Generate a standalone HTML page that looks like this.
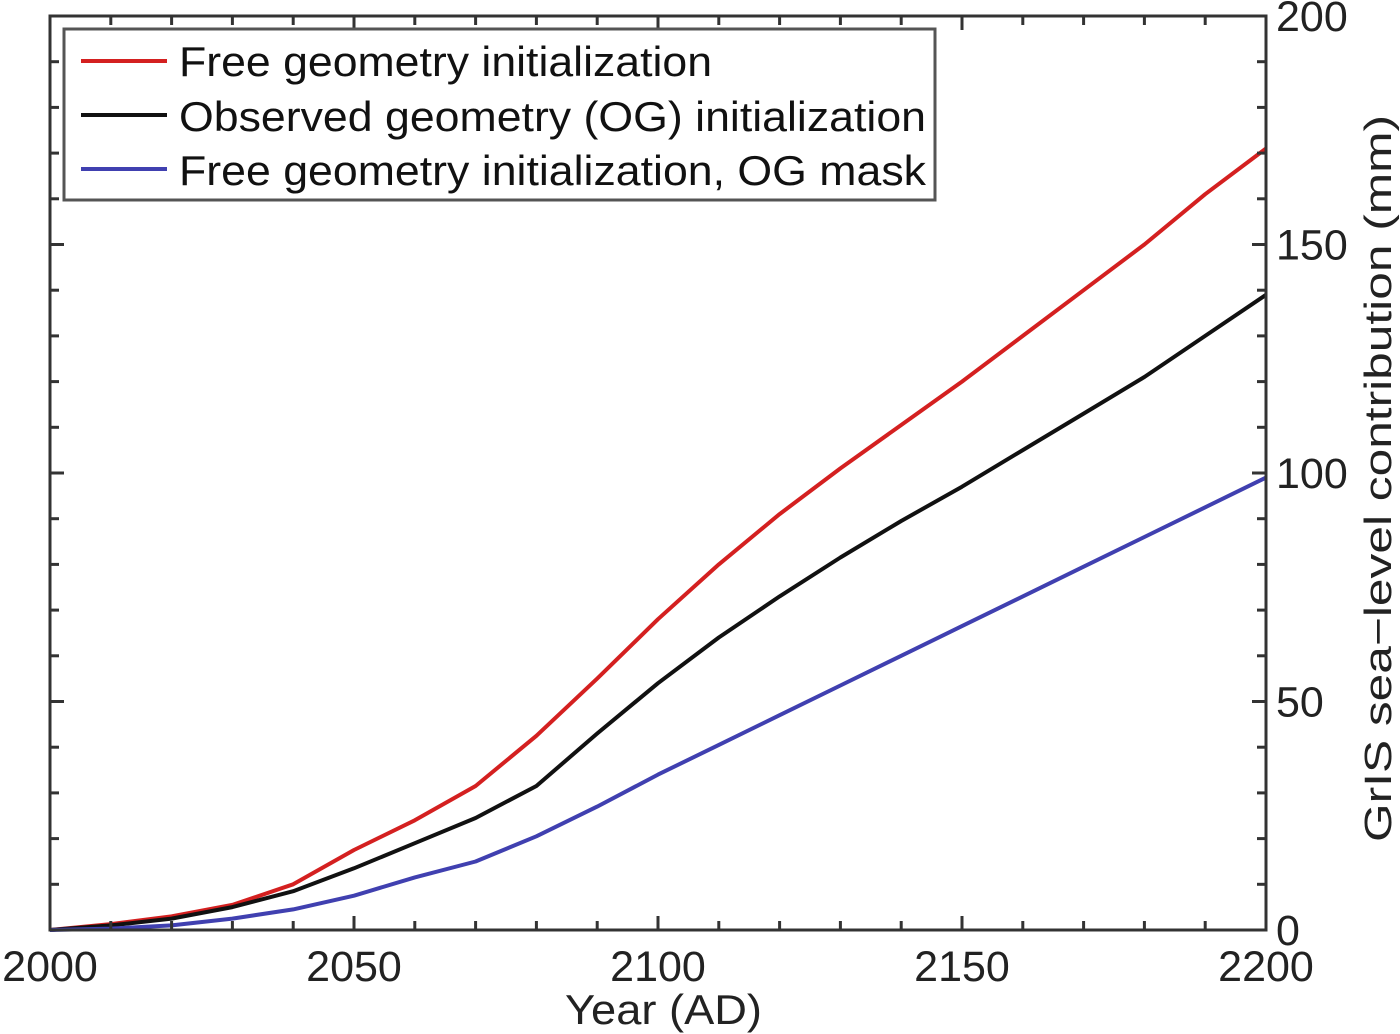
<!DOCTYPE html>
<html><head><meta charset="utf-8">
<style>
html,body{margin:0;padding:0;background:#fff;}
svg{display:block;font-family:"Liberation Sans",sans-serif;}
</style></head>
<body>
<svg id="chart" width="1400" height="1034" viewBox="0 0 1400 1034">
  <g id="series"></g>
  <g id="axes"></g>
  <text x="565" y="1024" font-size="42" textLength="197" lengthAdjust="spacingAndGlyphs" fill="#222">Year (AD)</text>
  <text transform="translate(1391,842) rotate(-90)" font-size="38" textLength="727" lengthAdjust="spacingAndGlyphs" fill="#222">GrIS sea−level contribution (mm)</text>
  <g>
    <rect x="64" y="29" width="871" height="171" fill="#fff" stroke="#555" stroke-width="3"/>
    <line x1="81" y1="61" x2="167" y2="61" stroke="#d42020" stroke-width="4"/>
    <text x="179" y="76" font-size="42" textLength="533" lengthAdjust="spacingAndGlyphs" fill="#111">Free geometry initialization</text>
    <line x1="81" y1="115" x2="167" y2="115" stroke="#111" stroke-width="4"/>
    <text x="179" y="131" font-size="42" textLength="747" lengthAdjust="spacingAndGlyphs" fill="#111">Observed geometry (OG) initialization</text>
    <line x1="81" y1="169" x2="167" y2="169" stroke="#4040b0" stroke-width="4"/>
    <text x="179" y="185" font-size="42" textLength="747" lengthAdjust="spacingAndGlyphs" fill="#111">Free geometry initialization, OG mask</text>
  </g>
</svg>
<script>
const years = [2000,2010,2020,2030,2040,2050,2060,2070,2080,2090,2100,2110,2120,2130,2140,2150,2160,2170,2180,2190,2200];
const redValues = [0,1.3,3,5.5,10,17.5,24,31.5,42.5,55,68,80,91,101,110.5,120,130,140,150,161,171];
const blackValues = [0,1,2.5,5,8.5,13.5,19,24.5,31.5,43,54,64,73,81.5,89.5,97,105,113,121,130,139];
const blueValues = [0,0.3,1,2.5,4.5,7.5,11.5,15,20.5,27,34,40.5,47,53.5,60,66.5,73,79.5,86,92.5,99];
const xTicks = [2000,2050,2100,2150,2200];
const yTicks = [0,50,100,150,200];

const X0=50,X1=1266,Y0=930,Y1=16;
const xs = v => X0 + (v-2000)/200*(X1-X0);
const ys = v => Y0 - v/200*(Y0-Y1);
const NS="http://www.w3.org/2000/svg";
const sg=document.getElementById('series'), ag=document.getElementById('axes');
function mk(tag,attrs,parent){const e=document.createElementNS(NS,tag);for(const k in attrs)e.setAttribute(k,attrs[k]);parent.appendChild(e);return e;}

[[redValues,'#d42020','red'],[blackValues,'#111','black'],[blueValues,'#4040b0','blue']].forEach(([vals,col,nm])=>{
  const d=vals.map((v,i)=>(i?'L':'M')+xs(years[i]).toFixed(1)+','+ys(v).toFixed(1)).join(' ');
  const p=mk('path',{d:d,fill:'none',stroke:col,'stroke-width':4,'stroke-linejoin':'round'},sg);
  
  
});

const frame=mk('rect',{x:X0,y:Y1,width:X1-X0,height:Y0-Y1,fill:'none',stroke:'#333','stroke-width':3},ag);


for(let yr=2000;yr<=2200;yr+=10){
  const major=(yr%50===0), L=major?14:9, x=xs(yr);
  mk('line',{x1:x,y1:Y0,x2:x,y2:Y0-L,stroke:'#333','stroke-width':3},ag);
  mk('line',{x1:x,y1:Y1,x2:x,y2:Y1+L,stroke:'#333','stroke-width':3},ag);
}
for(let v=0;v<=200;v+=10){
  const major=(v%50===0), L=major?14:9, y=ys(v);
  mk('line',{x1:X0,y1:y,x2:X0+L,y2:y,stroke:'#333','stroke-width':3},ag);
  mk('line',{x1:X1,y1:y,x2:X1-L,y2:y,stroke:'#333','stroke-width':3},ag);
}
xTicks.forEach(t=>{
  const e=mk('text',{x:xs(t),y:981,'font-size':43,'text-anchor':'middle',fill:'#222'},ag);
  e.textContent=t;
  
  
});
yTicks.forEach(t=>{
  const e=mk('text',{x:1276,y:ys(t)+15,'font-size':43,fill:'#222'},ag);
  e.textContent=t;
  
  
});
</script>
</body></html>
